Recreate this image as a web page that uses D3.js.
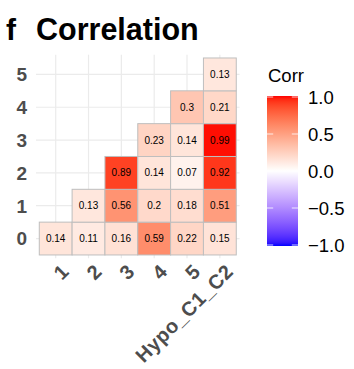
<!DOCTYPE html>
<html>
<head>
<meta charset="utf-8">
<script src="https://cdn.jsdelivr.net/npm/d3@7"></script>
<style>
  html, body { margin: 0; padding: 0; background: #fff; }
  svg { display: block; font-family: "Liberation Sans", Arial, Helvetica, sans-serif; }
</style>
</head>
<body>
<svg id="chart" width="354" height="369"></svg>
<script>
// Categories on each axis
const xLabels = ["1", "2", "3", "4", "5", "Hypo_C1_C2"];
const yLabels = ["0", "1", "2", "3", "4", "5"];

// Correlation values, one array per y category (null = hidden upper part)
const row0 = [0.14, 0.11, 0.16, 0.59, 0.22, 0.15];
const row1 = [null, 0.13, 0.56, 0.20, 0.18, 0.51];
const row2 = [null, null, 0.89, 0.14, 0.07, 0.92];
const row3 = [null, null, null, 0.23, 0.14, 0.99];
const row4 = [null, null, null, null, 0.30, 0.21];
const row5 = [null, null, null, null, null, 0.13];

// Colour bar breaks
const legendBreaks = [-1.0, -0.5, 0.0, 0.5, 1.0];

const rows = [row0, row1, row2, row3, row4, row5];
const cells = [];
rows.forEach((r, yi) => r.forEach((v, xi) => {
  if (v !== null) cells.push({ x: xLabels[xi], y: yLabels[yi], value: v });
}));

const svg = d3.select("#chart");

// Panel geometry
const unit = 32.83;
const panel = { left: 36, top: 54.7 };
const exp = 0.1 * unit;
const x = d3.scaleBand().domain(xLabels)
  .range([panel.left + exp, panel.left + exp + unit * xLabels.length]);
const y = d3.scaleBand().domain(yLabels)
  .range([panel.top + exp + unit * yLabels.length, panel.top + exp]);
const panelRight = x.range()[1] + exp;
const panelBottom = y.range()[0] + exp;

// Diverging fill: blue - white - red, interpolated in Lab space
const fill = v => v >= 0
  ? d3.interpolateLab("#FFFFFF", "#FF0000")(Math.min(v, 1))
  : d3.interpolateLab("#FFFFFF", "#0000FF")(Math.min(-v, 1));

// Grid lines
const grid = svg.append("g");
grid.selectAll("line.v").data(xLabels).join("line")
  .attr("x1", d => x(d) + x.bandwidth() / 2).attr("x2", d => x(d) + x.bandwidth() / 2)
  .attr("y1", panel.top).attr("y2", panelBottom)
  .attr("stroke", "#EBEBEB").attr("stroke-width", 1.2);
grid.selectAll("line.h").data(yLabels).join("line")
  .attr("y1", d => y(d) + y.bandwidth() / 2).attr("y2", d => y(d) + y.bandwidth() / 2)
  .attr("x1", panel.left).attr("x2", panelRight)
  .attr("stroke", "#EBEBEB").attr("stroke-width", 1.2);

// Tiles
svg.append("g").selectAll("rect").data(cells).join("rect")
  .attr("x", d => x(d.x)).attr("y", d => y(d.y))
  .attr("width", x.bandwidth()).attr("height", y.bandwidth())
  .attr("fill", d => fill(d.value))
  .attr("stroke", "#BEBEBE").attr("stroke-width", 1);

// Tile labels
svg.append("g").selectAll("text").data(cells).join("text")
  .attr("x", d => x(d.x) + x.bandwidth() / 2)
  .attr("y", d => y(d.y) + y.bandwidth() / 2)
  .attr("dy", "0.35em")
  .attr("text-anchor", "middle")
  .attr("font-size", 10)
  .attr("fill", "#000")
  .text(d => String(+d.value.toFixed(2)));

// Y axis labels
svg.append("g").selectAll("text").data(yLabels).join("text")
  .attr("x", 27)
  .attr("y", d => y(d) + y.bandwidth() / 2)
  .attr("dy", "0.36em")
  .attr("text-anchor", "end")
  .attr("font-size", 19).attr("font-weight", "bold")
  .attr("fill", "#4D4D4D")
  .text(d => d);

// X axis labels, rotated 45 degrees
svg.append("g").selectAll("text").data(xLabels).join("text")
  .attr("transform", d => `translate(${x(d) + x.bandwidth() / 2 + 4},${panelBottom + 4}) rotate(-45)`)
  .attr("text-anchor", "end")
  .attr("dy", "0.75em")
  .attr("font-size", 20).attr("font-weight", "bold")
  .attr("letter-spacing", 0.5)
  .attr("fill", "#4D4D4D")
  .text(d => d);

// Title and tag
svg.append("text").attr("x", 6).attr("y", 39.5)
  .attr("font-size", 30).attr("font-weight", "bold").attr("fill", "#000").text("f");
svg.append("text").attr("x", 36).attr("y", 39.5)
  .attr("font-size", 30.5).attr("font-weight", "bold").attr("fill", "#000").text("Correlation");

// Legend colour bar
const bar = { x: 267, top: 96, bottom: 246, width: 31 };
const ly = d3.scaleLinear().domain([-1, 1]).range([bar.bottom - 1, bar.top + 1]);
const defs = svg.append("defs");
const grad = defs.append("linearGradient").attr("id", "corrGrad")
  .attr("x1", 0).attr("y1", 1).attr("x2", 0).attr("y2", 0);
d3.range(0, 1.0001, 0.02).forEach(t => {
  grad.append("stop").attr("offset", t).attr("stop-color", fill(-1 + 2 * t));
});
svg.append("rect").attr("x", bar.x).attr("y", bar.top)
  .attr("width", bar.width).attr("height", bar.bottom - bar.top)
  .attr("fill", "url(#corrGrad)");
const tickLen = bar.width / 5;
const lg = svg.append("g");
lg.selectAll("line.l").data(legendBreaks).join("line")
  .attr("x1", bar.x).attr("x2", bar.x + tickLen)
  .attr("y1", d => ly(d)).attr("y2", d => ly(d))
  .attr("stroke", "#FFFFFF").attr("stroke-opacity", 0.8).attr("stroke-width", 1);
lg.selectAll("line.r").data(legendBreaks).join("line")
  .attr("x1", bar.x + bar.width - tickLen).attr("x2", bar.x + bar.width)
  .attr("y1", d => ly(d)).attr("y2", d => ly(d))
  .attr("stroke", "#FFFFFF").attr("stroke-opacity", 0.8).attr("stroke-width", 1);
lg.selectAll("text").data(legendBreaks).join("text")
  .attr("x", 308).attr("y", d => ly(d)).attr("dy", "0.36em")
  .attr("font-size", 18.5).attr("fill", "#000")
  .text(d => d3.format(".1f")(d));
svg.append("text").attr("x", 268).attr("y", 82)
  .attr("font-size", 18.5).attr("fill", "#000").text("Corr");
</script>
</body>
</html>
